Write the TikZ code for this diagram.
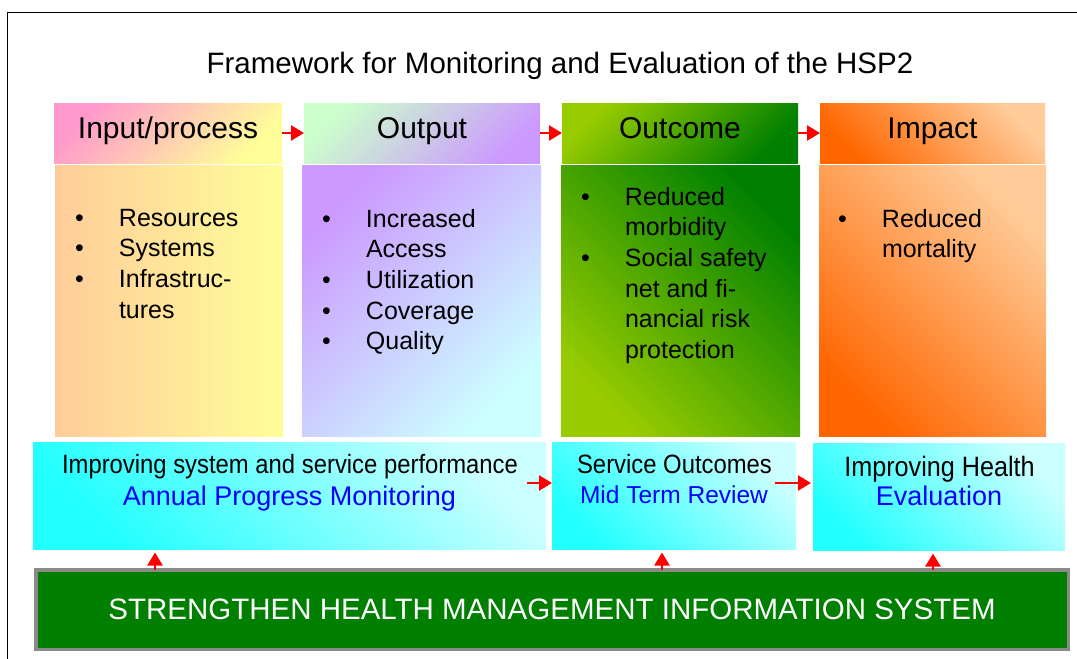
\documentclass[tikz,border=0pt]{standalone}
\usepackage{fontspec}
\setmainfont{Liberation Sans}
\newfontfamily\narrowfont[FakeStretch=0.9]{Liberation Sans}
\usetikzlibrary{arrows.meta}

\definecolor{pinkish}{HTML}{FF99CC}
\definecolor{lightyellow}{HTML}{FFFF99}
\definecolor{peach}{HTML}{FFCC99}
\definecolor{mint}{HTML}{CCFFCC}
\definecolor{lavender}{HTML}{CC99FF}
\definecolor{palecyan}{HTML}{CCFFFF}
\definecolor{limegreen}{HTML}{99CC00}
\definecolor{darkgreen}{HTML}{008000}
\definecolor{deeporange}{HTML}{FF6600}
\definecolor{aqua}{HTML}{22FFFF}
\definecolor{hmisgreen}{HTML}{007F00}
\definecolor{rimgray}{HTML}{8A8A8A}
\definecolor{linkblue}{HTML}{0000FF}

\newcommand{\bul}{\makebox[44pt][l]{\textbullet}}
\newcommand{\nobul}{\hspace*{44pt}}

\begin{document}
\begin{tikzpicture}[x=1pt, y=-1pt, line join=miter,
	every node/.style={inner sep=0pt, outer sep=0pt},
	head/.style={minimum height=60pt, text height=19pt, text depth=9pt, font=\fontsize{30}{34}\selectfont},
	body/.style={minimum height=271pt},
	list/.style={anchor=north west, align=left, font=\fontsize{25}{30.7}\selectfont},
	goal/.style={minimum height=107pt},
	arr/.style={red, line width=2.5pt, -{Triangle[length=13pt, width=15pt]}}]
	
	\useasboundingbox (0,0) rectangle (1077,659);
	
	% Frame and title
	\draw[line width=1.8pt] (7.5,680) -- (7.5,12.5) -- (1090,12.5);
	\node[anchor=base, font=\fontsize{29.5}{34}\selectfont] (title) at (560,73) {Framework for Monitoring and Evaluation of the HSP2};
	
	% Column headers
	\node[head, top color=pinkish, bottom color=lightyellow, shading angle=45, minimum width=228pt] (hin) at (168,133) {Input/process};
	\node[head, top color=mint, bottom color=lavender, shading angle=45, minimum width=236pt] (hout) at (422,133) {Output};
	\node[head, top color=limegreen, bottom color=darkgreen, shading angle=45, minimum width=236pt] (hoc) at (680,133) {Outcome};
	\node[head, top color=peach, bottom color=deeporange, shading angle=-45, minimum width=225pt] (him) at (932.5,133) {Impact};
	
	% Column bodies
	\node[body, left color=peach, right color=lightyellow, minimum width=228pt] (bin) at (169,300.5) {};
	\node[body, top color=lavender, bottom color=palecyan, shading angle=45, minimum width=239pt] (bout) at (421.5,300.5) {};
	\node[body, top color=darkgreen, bottom color=limegreen, shading angle=-45, minimum width=239pt] (boc) at (680.5,300.5) {};
	\node[body, top color=peach, bottom color=deeporange, shading angle=-45, minimum width=227pt] (bim) at (932.5,301) {};
	
	\node[list] (lin) at (75,209) {\bul Resources\\ \bul Systems\\ \bul Infrastruc-\\ \nobul tures};
	\node[list] (lout) at (322,209) {\bul Increased\\ \nobul Access\\ \bul Utilization\\ \bul Coverage\\ \bul Quality};
	\node[list] (loc) at (581,187) {\bul Reduced\\ \nobul morbidity\\ \bul Social safety\\ \nobul net and fi-\\ \nobul nancial risk\\ \nobul protection};
	\node[list] (lim) at (838,209) {\bul Reduced\\ \nobul mortality};
	
	% M&E levels
	\node[goal, top color=palecyan, bottom color=aqua, shading angle=-45, minimum width=513pt] (c1) at (289.5,495.5) {};
	\node[goal, top color=palecyan, bottom color=aqua, shading angle=-45, minimum width=244pt] (c2) at (674,495.5) {};
	\node[goal, top color=palecyan, bottom color=aqua, shading angle=-45, minimum width=252pt] (c3) at (939,496.5) {};
	
	\node[anchor=base, font=\narrowfont\fontsize{26.5}{30}\selectfont] (c1a) at (290,473) {Improving system and service performance};
	\node[anchor=base, text=linkblue, font=\fontsize{27}{30}\selectfont] (c1b) at (289.5,505) {Annual Progress Monitoring};
	\node[anchor=base, font=\narrowfont\fontsize{26.5}{30}\selectfont] (c2a) at (674.5,473) {Service Outcomes};
	\node[anchor=base, text=linkblue, font=\fontsize{24.5}{30}\selectfont] (c2b) at (674,503) {Mid Term Review};
	\node[anchor=base, font=\narrowfont\fontsize{28}{30}\selectfont] (c3a) at (939.5,476) {Improving Health};
	\node[anchor=base, text=linkblue, font=\fontsize{27}{30}\selectfont] (c3b) at (939,505) {Evaluation};
	
	% HMIS bar
	\node[draw=rimgray, line width=3.5pt, fill=hmisgreen, text=white, minimum width=1032.5pt, minimum height=79.5pt, font=\fontsize{29.5}{34}\selectfont] (hmis) at (552,609.5) {STRENGTHEN HEALTH MANAGEMENT INFORMATION SYSTEM};
	
	% Arrows
	\draw[arr] (hin) -- (hout);
	\draw[arr] (hout) -- (hoc);
	\draw[arr] (hoc) -- (him);
	
	\draw[arr] ([xshift=-25pt, yshift=12.5pt]c2.west) -- ([yshift=12.5pt]c2.west);
	\draw[arr] ([xshift=-21pt, yshift=12.5pt]c2.east) -- ([xshift=-2pt, yshift=13.5pt]c3.west);
	
	\coordinate (u1) at (155,0);
	\coordinate (u2) at (662,0);
	\coordinate (u3) at (933,0);
	\draw[arr, shorten >=3.5pt] (u1 |- hmis.north) -- (u1 |- c1.south);
	\draw[arr, shorten >=3.5pt] (u2 |- hmis.north) -- (u2 |- c2.south);
	\draw[arr, shorten >=3.5pt] (u3 |- hmis.north) -- (u3 |- c3.south);
	
\end{tikzpicture}
\end{document}
